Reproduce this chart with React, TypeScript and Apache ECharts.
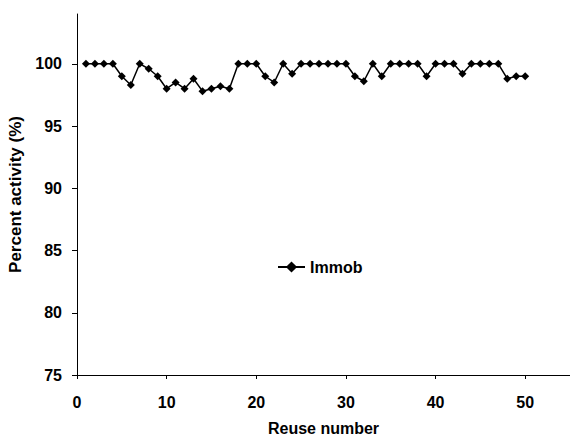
import React, { useEffect, useRef } from "react";
import * as echarts from "echarts";

const reuseNumbers = Array.from({ length: 50 }, (_, i) => i + 1);
const activity = [
  100, 100, 100, 100, 99.0, 98.3, 100, 99.6, 99.0, 98.0,
  98.5, 98.0, 98.8, 97.8, 98.0, 98.2, 98.0, 100, 100, 100,
  99.0, 98.5, 100, 99.2, 100, 100, 100, 100, 100, 100,
  99.0, 98.6, 100, 99.0, 100, 100, 100, 100, 99.0, 100,
  100, 100, 99.2, 100, 100, 100, 100, 98.8, 99.0, 99.0,
];
const xTicks = [0, 10, 20, 30, 40, 50];
const yTicks = [75, 80, 85, 90, 95, 100];

export default function App() {
  const ref = useRef<HTMLDivElement>(null);
  useEffect(() => {
    if (!ref.current) return;
    const chart = echarts.init(ref.current, null, { renderer: "svg" });
    const font = "'Liberation Sans', Arial, sans-serif";
    chart.setOption({
      animation: false,
      backgroundColor: "#ffffff",
      grid: { left: 77, right: 0, top: 14, bottom: 62, containLabel: false, outerBoundsMode: "none" },
      legend: {
        show: true,
        left: 272,
        top: 254,
        padding: 5,
        itemWidth: 27,
        itemHeight: 14,
        itemGap: 5,
        textStyle: { fontFamily: font, fontSize: 16, fontWeight: "bold", color: "#000" },
        data: ["Immob"],
      },
      xAxis: {
        type: "value",
        min: 0,
        max: 55,
        name: "Reuse number",
        nameLocation: "middle",
        nameGap: 45,
        nameTextStyle: { fontFamily: font, fontSize: 16, fontWeight: "bold", color: "#000" },
        axisLine: { show: true, lineStyle: { color: "#000", width: 1 } },
        axisTick: { show: true, length: 4, inside: false, customValues: xTicks, lineStyle: { color: "#000" } },
        axisLabel: { customValues: xTicks, margin: 19, fontFamily: font, fontSize: 16, fontWeight: "bold", color: "#000" },
        splitLine: { show: false },
      },
      yAxis: {
        type: "value",
        min: 75,
        max: 104,
        name: "Percent activity (%)",
        nameLocation: "middle",
        nameGap: 48,
        nameTextStyle: { fontFamily: font, fontSize: 17, fontWeight: "bold", color: "#000" },
        axisLine: { show: true, lineStyle: { color: "#000", width: 1 } },
        axisTick: { show: true, length: 5, inside: false, customValues: yTicks, lineStyle: { color: "#000" } },
        axisLabel: { customValues: yTicks, margin: 15, fontFamily: font, fontSize: 16, fontWeight: "bold", color: "#000" },
        splitLine: { show: false },
      },
      series: [
        {
          name: "Immob",
          type: "line",
          data: reuseNumbers.map((n, i) => [n, activity[i]]),
          symbol: "diamond",
          symbolSize: 8,
          itemStyle: { color: "#000" },
          lineStyle: { color: "#000", width: 1.5 },
        },
      ],
    });
    return () => chart.dispose();
  }, []);
  return (
    <div
      ref={ref}
      style={{ position: "absolute", left: 0, top: 0, width: 570, height: 437 }}
    />
  );
}
